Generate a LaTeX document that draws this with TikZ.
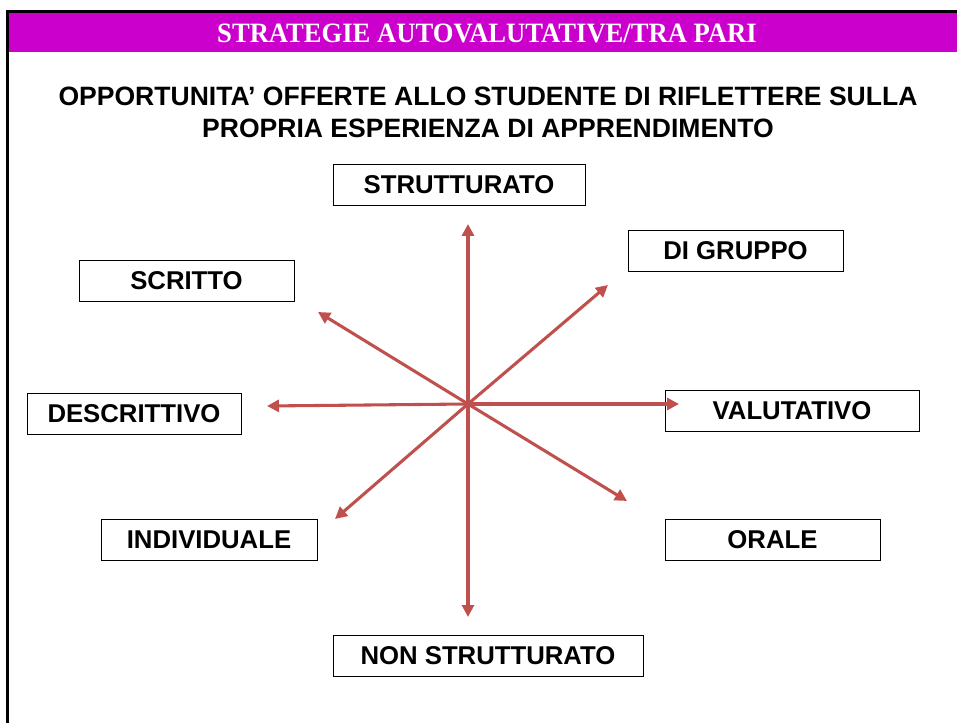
\documentclass[tikz,border=0pt]{standalone}
\usepackage{fontspec}
\setmainfont{Liberation Sans}
\newfontfamily\titlefont[FakeStretch=0.95]{Liberation Serif}
\usetikzlibrary{arrows.meta}
\definecolor{banner}{HTML}{CC00CC}
\definecolor{rayred}{HTML}{C0504D}
\tikzset{
  box/.style={draw, line width=0.6pt, minimum height=30.75pt, inner sep=0pt,
    font=\fontsize{19.3}{23}\selectfont\bfseries},
  ray/.style={rayred, line width=2.3pt, -{Triangle[length=9pt,width=9pt]}}
}
\begin{document}
\begin{tikzpicture}[x=0.75pt,y=-0.75pt]
  \useasboundingbox (0,0) rectangle (957,723);
  % banner and frame
  \fill[banner] (9,13) rectangle (957,52);
  \draw[line width=2.4pt] (7.5,723) -- (7.5,11.5) -- (957,11.5);
  \node[text=white, font=\titlefont\fontsize{21}{25}\selectfont\bfseries] (title) at (487,33) {STRATEGIE AUTOVALUTATIVE/TRA PARI};
  \node[align=center, inner sep=0pt, font=\fontsize{19.9}{24}\selectfont\bfseries] (sub) at (488,112.5)
    {OPPORTUNITA’ OFFERTE ALLO STUDENTE DI RIFLETTERE SULLA\\PROPRIA ESPERIENZA DI APPRENDIMENTO};

  % boxes
  \node[box, minimum width=189pt] (strutt) at (459,185) {STRUTTURATO};
  \node[box, minimum width=161.25pt] (gruppo) at (735.5,250.5) {DI GRUPPO};
  \node[box, minimum width=161.25pt] (scritto) at (186.5,280.5) {SCRITTO};
  \node[box, minimum width=160.5pt] (descr) at (134,413.5) {DESCRITTIVO};
  \node[box, minimum width=190.5pt] (valut) at (792,411) {VALUTATIVO};
  \node[box, minimum width=162pt] (indiv) at (209,539.5) {INDIVIDUALE};
  \node[box, minimum width=161.25pt] (orale) at (772.5,539.5) {ORALE};
  \node[box, minimum width=232.5pt] (nonstrutt) at (488,656) {NON STRUTTURATO};

  % rays
  \coordinate (hub) at (468,404);
  \coordinate (tipN) at (468,224);
  \coordinate (tipNE) at (608,285);
  \coordinate (tipNW) at (318,312);
  \coordinate (tipW) at (267,406);
  \coordinate (tipE) at (679,404);
  \coordinate (tipSE) at (627,501);
  \coordinate (tipSW) at (335,519);
  \coordinate (tipS) at (468,617);
  \foreach \t in {N,NE,NW,W,E,SE,SW,S}
    \draw[ray] (hub) -- (tip\t);
\end{tikzpicture}
\end{document}
